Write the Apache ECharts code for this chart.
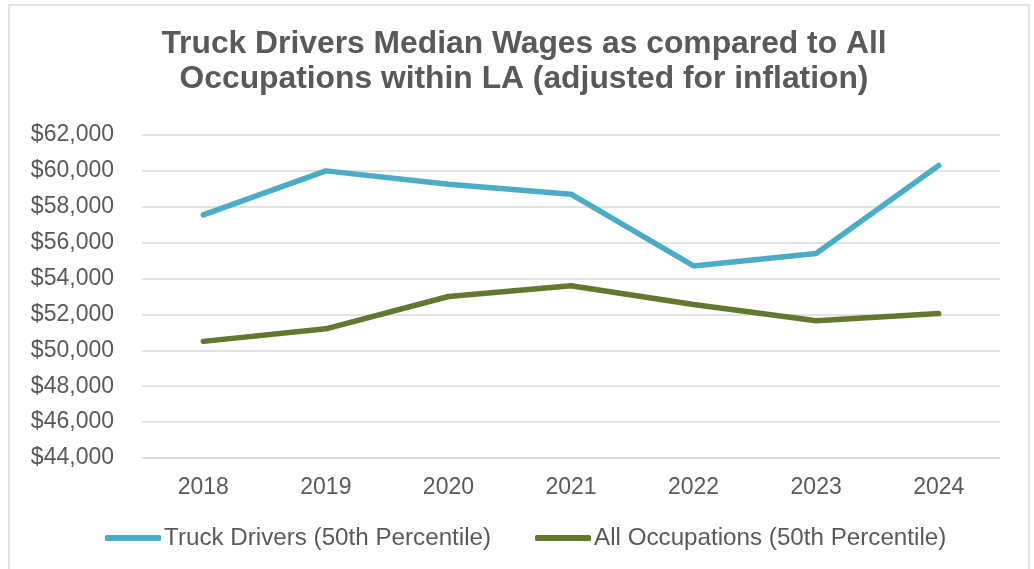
<!DOCTYPE html>
<html><head><meta charset="utf-8">
<script src="https://cdn.jsdelivr.net/npm/echarts@6/dist/echarts.min.js"></script>
<style>html,body{margin:0;padding:0;background:#fff}#c{width:1034px;height:569px}</style>
</head><body><div id="c"></div>
<script>
const categories = ['2018','2019','2020','2021','2022','2023','2024'];
const truckDrivers = [57550, 60000, 59250, 58700, 54700, 55400, 60300];
const allOccupations = [50500, 51200, 53000, 53600, 52550, 51650, 52050];
const seriesNames = ['Truck Drivers (50th Percentile)', 'All Occupations (50th Percentile)'];
const titleText = 'Truck Drivers Median Wages as compared to All\nOccupations within LA (adjusted for inflation)';

const chart = echarts.init(document.getElementById('c'), null, {renderer:'canvas'});
const font = 'Liberation Sans, Arial, sans-serif';
chart.setOption({
  animation:false,
  backgroundColor:'#fff',
  graphic:[{type:'rect', shape:{x:9,y:5,width:1020,height:600}, style:{fill:'none', stroke:'#d9d9d9', lineWidth:1.5}, silent:true}],
  title:{text:titleText, left:519, textAlign:'center', top:22,
    textStyle:{fontFamily:font, fontSize:31.8, fontWeight:'bold', color:'#595959', lineHeight:35}},
  grid:{left:142, right:34, top:135, bottom:111},
  xAxis:{type:'category', data:categories, boundaryGap:true,
    axisLine:{lineStyle:{color:'#d9d9d9', width:1.5}}, axisTick:{show:false},
    axisLabel:{fontFamily:font, fontSize:23, color:'#595959', margin:18}},
  yAxis:{type:'value', min:44000, max:62000, interval:2000,
    axisLine:{show:false}, axisTick:{show:false},
    splitLine:{lineStyle:{color:'#d9d9d9', width:1.5}},
    axisLabel:{fontFamily:font, fontSize:23, color:'#595959', margin:28,
      formatter:v=>'$'+v.toLocaleString('en-US')}},
  legend:{bottom:14, left:100, itemWidth:56, itemHeight:6, itemGap:44,
    icon:'roundRect',
    textStyle:{fontFamily:font, fontSize:24.2, color:'#595959', padding:[0,0,0,-2]},
    data:seriesNames},
  series:[
    {name:seriesNames[0], type:'line', data:truckDrivers, symbol:'none', lineStyle:{color:'#4BACC6', width:5.5, cap:'round'}, itemStyle:{color:'#4BACC6'}},
    {name:seriesNames[1], type:'line', data:allOccupations, symbol:'none', lineStyle:{color:'#63782F', width:5.5, cap:'round'}, itemStyle:{color:'#63782F'}}
  ]
});
</script></body></html>
